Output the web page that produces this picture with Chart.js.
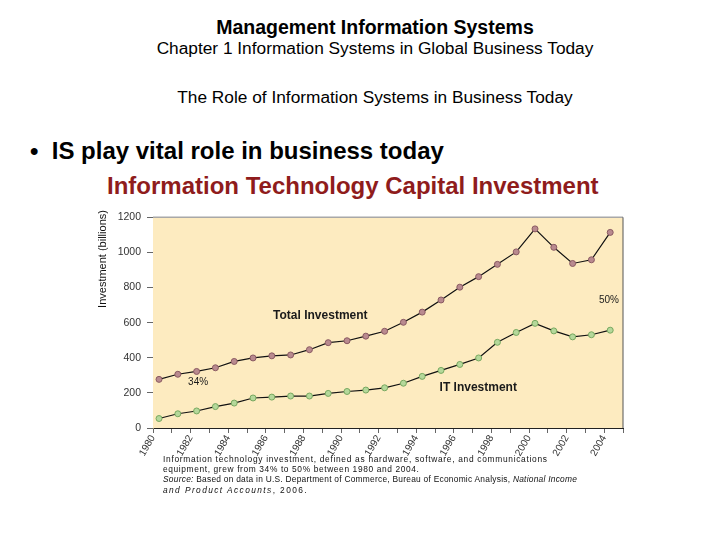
<!DOCTYPE html>
<html>
<head>
<meta charset="utf-8">
<script src="https://cdn.jsdelivr.net/npm/chart.js@4.4.0/dist/chart.umd.min.js"></script>
<style>
  body { margin: 0; background: #fff; font-family: "Liberation Sans", Arial, sans-serif; }
  .page { position: relative; width: 720px; height: 540px; overflow: hidden; }
  .t { position: absolute; white-space: nowrap; line-height: 20px; color: #000; }
  .c { left: 0; width: 750px; text-align: center; }
  #wrap { position: absolute; left: 90px; top: 205px; width: 545px; height: 255px; }
  .cap { position: absolute; left: 163px; top: 454px; font-size: 8.4px; line-height: 10.2px; color: #111; white-space: nowrap; }
  .cap div { letter-spacing: 0.62px; }
</style>
</head>
<body>
<div class="page">
  <div class="t c" style="top:17px;font-size:19.5px;font-weight:bold;">Management Information Systems</div>
  <div class="t c" style="top:38px;font-size:17.3px;">Chapter 1 Information Systems in Global Business Today</div>
  <div class="t c" style="top:87px;font-size:17.3px;">The Role of Information Systems in Business Today</div>
  <div class="t" style="left:30px;top:139px;font-size:24px;line-height:24px;font-weight:bold;">&bull;&nbsp;&nbsp;IS play vital role in business today</div>
  <div class="t" style="left:107px;top:174px;font-size:24px;line-height:24px;font-weight:bold;color:#8f1c1c;">Information Technology Capital Investment</div>
  <div id="wrap"><canvas id="chart" width="545" height="255"></canvas></div>
  <div class="cap">
    <div style="letter-spacing:0.7px;">Information technology investment, defined as hardware, software, and communications</div>
    <div>equipment, grew from 34% to 50% between 1980 and 2004.</div>
    <div style="letter-spacing:0.25px;"><i>Source:</i> Based on data in U.S. Department of Commerce, Bureau of Economic Analysis, <i>National Income</i></div>
    <div style="letter-spacing:1.4px;"><i>and Product Accounts</i>, 2006.</div>
  </div>
</div>
<script>
var years = [1980, 1981, 1982, 1983, 1984, 1985, 1986, 1987, 1988, 1989, 1990, 1991, 1992,
             1993, 1994, 1995, 1996, 1997, 1998, 1999, 2000, 2001, 2002, 2003, 2004];
var totalInvestment = [277, 306, 322, 343, 379, 399, 411, 416, 446, 486, 497, 523, 551,
                       602, 660, 729, 802, 862, 932, 1003, 1134, 1029, 937, 958, 1114];
var itInvestment = [54, 81, 97, 122, 142, 171, 176, 182, 182, 197, 208, 216, 229,
                    255, 294, 328, 362, 399, 488, 544, 596, 553, 519, 531, 557];
var yTicks = [0, 200, 400, 600, 800, 1000, 1200];

// points sit a little inside each year band
function series(vals) {
    return vals.map(function(v, i) { return { x: years[i] + 0.32, y: v } })
}

var notes = [
    { text: "Total Investment", x: 1988.9, y: 642, font: "bold 12px 'Liberation Sans', Arial" },
    { text: "IT Investment", x: 1997.3, y: 231, font: "bold 12px 'Liberation Sans', Arial" },
    { text: "34%", x: 1982.4, y: 259, font: "10px 'Liberation Sans', Arial" },
    { text: "50%", x: 2004.25, y: 727, font: "10px 'Liberation Sans', Arial" }
];

var plotDeco = {
    id: "plotDeco",
    beforeDatasetsDraw: function(c) {
        var a = c.chartArea, ctx = c.ctx;
        ctx.save();
        ctx.fillStyle = "#fdebc0";
        ctx.fillRect(a.left, a.top, a.right - a.left, a.bottom - a.top);
        ctx.strokeStyle = "#a8a8a8";
        ctx.lineWidth = 1.5;
        ctx.beginPath(); ctx.moveTo(a.left, a.top); ctx.lineTo(a.right, a.top); ctx.stroke();
        ctx.strokeStyle = "#555";
        ctx.lineWidth = 1;
        ctx.beginPath(); ctx.moveTo(a.right, a.top); ctx.lineTo(a.right, a.bottom); ctx.stroke();
        // axis title sits high on the left, not centred
        ctx.fillStyle = "#111";
        ctx.font = "11px 'Liberation Sans', Arial";
        ctx.textAlign = "center";
        ctx.textBaseline = "middle";
        ctx.translate(13, 54);
        ctx.rotate(-Math.PI / 2);
        ctx.fillText("Investment (billions)", 0, 0);
        ctx.restore();
    },
    afterDatasetsDraw: function(c) {
        var ctx = c.ctx, xs = c.scales.x, ys = c.scales.y;
        ctx.save();
        ctx.fillStyle = "#1a1a1a";
        ctx.textAlign = "center";
        ctx.textBaseline = "middle";
        notes.forEach(function(n) {
            ctx.font = n.font;
            ctx.fillText(n.text, xs.getPixelForValue(n.x), ys.getPixelForValue(n.y));
        });
        ctx.restore();
    }
};

new Chart(document.getElementById("chart").getContext("2d"), {
    type: "line",
    data: {
        datasets: [{
            label: "Total Investment",
            data: series(totalInvestment),
            borderColor: "#111",
            borderWidth: 1.2,
            pointRadius: 3,
            pointBackgroundColor: "#b98a8f",
            pointBorderColor: "#8a5a62",
            pointBorderWidth: 1,
            tension: 0
        }, {
            label: "IT Investment",
            data: series(itInvestment),
            borderColor: "#111",
            borderWidth: 1.2,
            pointRadius: 3,
            pointBackgroundColor: "#b5d89a",
            pointBorderColor: "#78a860",
            pointBorderWidth: 1,
            tension: 0
        }]
    },
    options: {
        responsive: false,
        animation: false,
        layout: { padding: { top: 10, right: 12, left: 0, bottom: 0 } },
        plugins: { legend: { display: false }, tooltip: { enabled: false } },
        scales: {
            x: {
                type: "linear",
                min: 1980,
                max: 2005,
                afterFit: function(s) { s.height = 32 },
                afterBuildTicks: function(s) {
                    s.ticks = years.concat([2005]).map(function(v) { return { value: v } })
                },
                ticks: {
                    autoSkip: false,
                    minRotation: 60,
                    maxRotation: 60,
                    padding: 0,
                    color: "#333",
                    font: { family: "'Liberation Sans', Arial", size: 10 },
                    callback: function(v) { return (v % 2 === 0 && v < 2005) ? String(v) : "" }
                },
                grid: { drawOnChartArea: false, tickLength: 5, color: "#666" },
                border: { color: "#222", width: 1 }
            },
            y: {
                min: 0,
                max: 1200,
                afterFit: function(s) { s.width = 63 },
                afterBuildTicks: function(s) {
                    s.ticks = yTicks.map(function(v) { return { value: v } })
                },
                ticks: {
                    padding: 6,
                    color: "#333",
                    font: { family: "'Liberation Sans', Arial", size: 10.5 },
                    callback: function(v) { return String(v) }
                },
                grid: { drawOnChartArea: false, tickLength: 6, color: "#666" },
                border: { color: "#9c8f70", width: 1 }
            }
        }
    },
    plugins: [plotDeco]
});
</script>
</body>
</html>
